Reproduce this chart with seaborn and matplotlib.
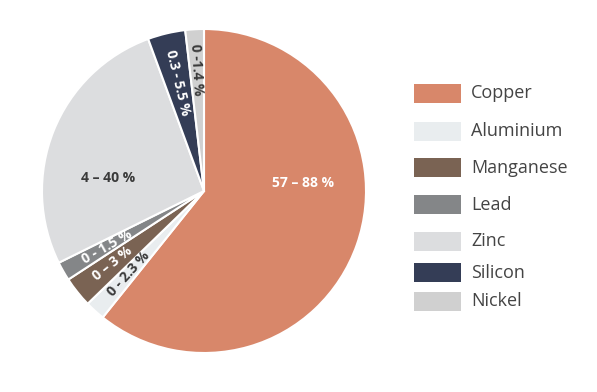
import matplotlib
matplotlib.use("Agg")
import matplotlib.pyplot as plt
import seaborn as sns
import numpy as np
from matplotlib.patches import Rectangle

# data (slice shares, %)
metals = ["Copper", "Aluminium", "Manganese", "Lead", "Zinc", "Silicon", "Nickel"]
shares = [60.75, 2.0, 3.05, 1.9, 26.7, 3.75, 1.85]
ranges = ["57 – 88 %", "0 - 2.3 %", "0 – 3 %", "0 - 1.5 %", "4 – 40 %", "0.3 - 5.5 %", "0 -1.4 %"]
colors = ["#D8876A", "#E9EDEF", "#7A6353", "#848688", "#DCDDDF", "#343D56", "#D0D0D0"]

sns.set_theme(style="white")
plt.rcParams["font.family"] = ["Open Sans", "DejaVu Sans"]

fig = plt.figure(figsize=(5.97, 3.92), dpi=100)
W, H = 597, 392
cx, cy, R = 204, 191, 162
ax = fig.add_axes([(cx - R) / W, (H - cy - R) / H, 2 * R / W, 2 * R / H])

wedges, _ = ax.pie(shares, colors=colors, startangle=90, counterclock=False,
                   wedgeprops=dict(edgecolor="white", linewidth=1.5))
ax.set_xlim(-1, 1)
ax.set_ylim(-1, 1)
ax.set_aspect("equal")
ax.axis("off")

# slice labels: big slices horizontal, small ones rotated along the radius
label_style = {
    "Copper": (0.64, "white", False),
    "Aluminium": (0.69, "#3a3a3a", True),
    "Manganese": (0.72, "white", True),
    "Lead": (0.69, "white", True),
    "Zinc": (0.60, "#3a3a3a", False),
    "Silicon": (0.69, "white", True),
    "Nickel": (0.75, "#3a3a3a", True),
}
for w, name, txt in zip(wedges, metals, ranges):
    mid = np.deg2rad((w.theta1 + w.theta2) / 2)
    r, col, rot = label_style[name]
    x, y = r * np.cos(mid), r * np.sin(mid)
    if name == "Copper":
        x, y = 0.61, 0.05
    if name == "Zinc":
        x, y = -0.59, 0.08
    angle = 0
    if rot:
        angle = np.rad2deg(mid)
        angle = angle - 180 if angle > 90 else angle + 180
        if angle < -90:
            angle += 180
    ax.text(x, y, txt, ha="center", va="center", rotation=angle,
            rotation_mode="anchor", color=col, fontsize=10, fontweight="bold")

# legend on the right
row_y = [93.5, 131, 168, 204.5, 241.5, 272.5, 301.5]
for name, col, yy in zip(metals, colors, row_y):
    fig.patches.append(Rectangle((414 / W, (H - yy - 9.5) / H), 47 / W, 19 / H,
                                 transform=fig.transFigure, facecolor=col,
                                 edgecolor="none"))
    fig.text(471 / W, (H - yy) / H, name, ha="left", va="center",
             fontsize=13, color="#444444")

fig.savefig("out.png", dpi=100)
